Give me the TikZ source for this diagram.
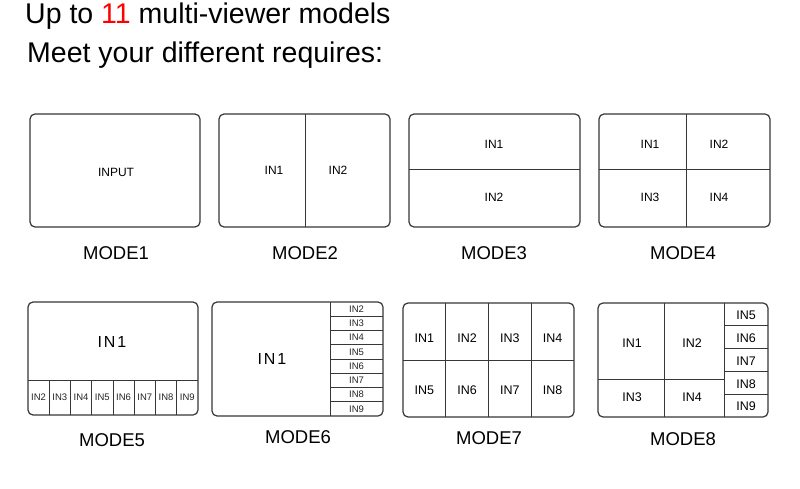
\documentclass[tikz,border=0pt]{standalone}
\usepackage{fontspec}
\setmainfont{Liberation Sans}
\definecolor{frame}{RGB}{55,55,55}
\definecolor{titlered}{RGB}{255,0,0}
\begin{document}
\begin{tikzpicture}[x=1pt,y=-1pt,
  scr/.style={draw=frame,line width=1.2pt,rounded corners=5pt},
  div/.style={draw=frame,line width=1pt},
  lab/.style={inner sep=0pt,font=\fontsize{12}{12}\selectfont},
  labb/.style={inner sep=0pt,font=\fontsize{12.5}{12.5}\selectfont},
  tiny/.style={inner sep=0pt,font=\fontsize{9.5}{10}\selectfont,text=black!85},
  big/.style={inner sep=0pt,font=\fontsize{16}{16}\selectfont\addfontfeature{LetterSpace=12}},
  mode/.style={inner sep=0pt,font=\fontsize{18.5}{18.5}\selectfont},
  ttl/.style={inner sep=0pt,anchor=base west,font=\fontsize{28.5}{29}\selectfont}]
\useasboundingbox[fill=white] (0,0) rectangle (800,489);

% titles
\node[ttl] (t1) at (25,24) {Up to \textcolor{titlered}{11} multi-viewer models};
\node[ttl] (t2) at (27,63) {Meet your different requires:};

% MODE1
\draw[scr] (30,114) rectangle (200,227);
\node[lab] (m1a) at (116,172) {INPUT};
\node[mode] (m1) at (116,253) {MODE1};

% MODE2
\draw[scr] (219,114) rectangle (390,227);
\draw[div] (305,114) -- (305,227);
\node[lab] (m2a) at (274,170) {IN1};
\node[lab] (m2b) at (338,170) {IN2};
\node[mode] (m2) at (305,253) {MODE2};

% MODE3
\draw[scr] (409,114) rectangle (580,227);
\draw[div] (409,170) -- (580,170);
\node[lab] (m3a) at (494,144) {IN1};
\node[lab] (m3b) at (494,197) {IN2};
\node[mode] (m3) at (494,253) {MODE3};

% MODE4
\draw[scr] (599,114) rectangle (770,227);
\draw[div] (686,114) -- (686,227);
\draw[div] (599,170) -- (770,170);
\node[lab] (m4a) at (650,144) {IN1};
\node[lab] (m4b) at (719,144) {IN2};
\node[lab] (m4c) at (650,197) {IN3};
\node[lab] (m4d) at (719,197) {IN4};
\node[mode] (m4) at (683,253) {MODE4};

% MODE5
\draw[scr] (28,302) rectangle (198,415);
\draw[div] (28,380) -- (198,380);
\foreach \k in {1,...,7} \draw[div] ({28+21.25*\k},380) -- ({28+21.25*\k},415);
\node[big] (m5a) at (112,342) {IN1};
\foreach \k [evaluate=\k as \n using int(\k+1)] in {1,...,8}
  \node[tiny] (m5s\k) at ({28+21.25*(\k-0.5)},397.5) {IN\n};
\node[mode] (m5) at (112,440) {MODE5};

% MODE6
\draw[scr] (212,302) rectangle (383,416);
\draw[div] (330,302) -- (330,416);
\foreach \k in {1,...,7} \draw[div] (330,{302+14.25*\k}) -- (383,{302+14.25*\k});
\node[big] (m6a) at (272,359) {IN1};
\foreach \k [evaluate=\k as \n using int(\k+1)] in {1,...,8}
  \node[tiny] (m6s\k) at (356.5,{302+14.25*(\k-0.5)}) {IN\n};
\node[mode] (m6) at (298,437) {MODE6};

% MODE7
\draw[scr] (403,303) rectangle (574,417);
\foreach \k in {1,2,3} \draw[div] ({403+42.75*\k},303) -- ({403+42.75*\k},417);
\draw[div] (403,360) -- (574,360);
\foreach \k in {1,...,4} {
  \node[labb] (m7t\k) at ({403+42.75*(\k-0.5)},338) {IN\k};
}
\foreach \k [evaluate=\k as \n using int(\k+4)] in {1,...,4} {
  \node[labb] (m7b\k) at ({403+42.75*(\k-0.5)},390) {IN\n};
}
\node[mode] (m7) at (489,438) {MODE7};

% MODE8
\draw[scr] (598,303) rectangle (768,417);
\draw[div] (664,303) -- (664,417);
\draw[div] (724,303) -- (724,417);
\draw[div] (598,379) -- (724,379);
\foreach \k in {1,...,4} \draw[div] (724,{303+22.8*\k}) -- (768,{303+22.8*\k});
\node[labb] (m8a) at (632,343) {IN1};
\node[labb] (m8b) at (692,343) {IN2};
\node[labb] (m8c) at (632,397) {IN3};
\node[labb] (m8d) at (692,397) {IN4};
\foreach \k [evaluate=\k as \n using int(\k+4)] in {1,...,5}
  \node[labb] (m8s\k) at (746,{303+22.8*(\k-0.5)+1}) {IN\n};
\node[mode] (m8) at (683,439) {MODE8};
\end{tikzpicture}
\end{document}
